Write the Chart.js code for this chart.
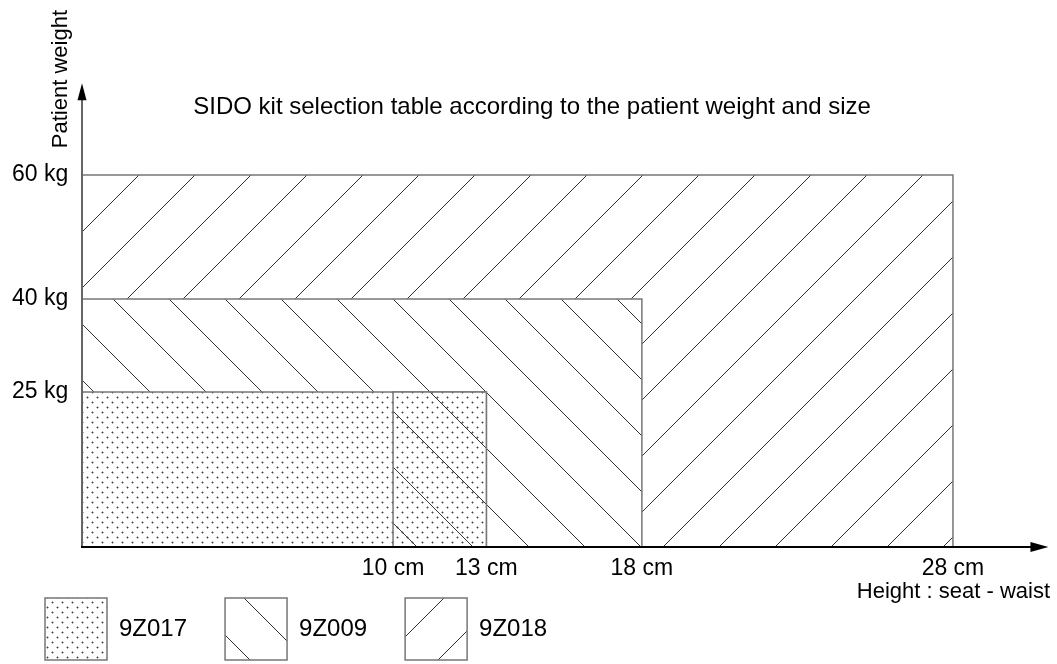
<!DOCTYPE html>
<html>
<head>
<meta charset="utf-8">
<script src="https://cdn.jsdelivr.net/npm/chart.js@4.4.1/dist/chart.umd.min.js"></script>
<style>
  html, body { margin: 0; padding: 0; background: #fff; }
  #wrap { width: 1057px; height: 664px; }
</style>
</head>
<body>
<div id="wrap"><canvas id="kitChart"></canvas></div>
<script>
const kitNames = ["9Z017", "9Z009", "9Z018"];
const kitMaxHeightCm = [13, 18, 28];
const kitMaxWeightKg = [25, 40, 60];
const sharedFromCm = 10; // from here up to 13 cm, 9Z017 and 9Z009 both apply
const heightTicksCm = [10, 13, 18, 28];
const weightTicksKg = [25, 40, 60];

const chartTitle = "SIDO kit selection table according to the patient weight and size";
const xTitle = "Height : seat - waist";
const yTitle = "Patient weight";

// pattern tiles (white background so the smaller boxes hide the bigger ones)
function makePattern(size, opts) {
  const c = document.createElement("canvas");
  c.width = size;
  c.height = size;
  const g = c.getContext("2d");
  g.fillStyle = "#fff";
  g.fillRect(0, 0, size, size);
  if (opts.dots) {
    for (let yy = 0; yy < size; yy += 10) {
      for (let xx = 0; xx < size; xx += 10) {
        plus(g, xx + 2, yy + 2);
        plus(g, xx + 7, yy + 7);
      }
    }
  }
  if (opts.hatch) {
    g.strokeStyle = "#333";
    g.lineWidth = 1;
    const n = size / 56 + 2;
    for (let k = -n; k <= n; k++) {
      const c0 = opts.phase + 56 * k;
      g.beginPath();
      if (opts.hatch === "/") {
        g.moveTo(c0 + 4, -4);
        g.lineTo(c0 - size - 4, size + 4);
      } else {
        g.moveTo(c0 - 4, -4);
        g.lineTo(c0 + size + 4, size + 4);
      }
      g.stroke();
    }
  }
  return g.createPattern(c, "repeat");
}

function plus(g, x, y) {
  g.fillStyle = "#aaa";
  g.fillRect(x - 1, y, 3, 1);
  g.fillRect(x, y - 1, 1, 3);
  g.fillStyle = "#444";
  g.fillRect(x, y, 1, 1);
}

const dotFill = makePattern(10, { dots: true });
const backFill = makePattern(56, { hatch: "\\", phase: 38 });
const slashFill = makePattern(56, { hatch: "/", phase: 34 });
const sharedFill = makePattern(280, { dots: true, hatch: "\\", phase: 38 });
const kitFills = [dotFill, backFill, slashFill];

function boxOutline(fromCm, toCm, topKg) {
  return [
    { x: fromCm, y: fromCm > 0 ? 0 : topKg },
    { x: fromCm, y: topKg },
    { x: toCm, y: topKg },
    { x: toCm, y: 0 },
  ];
}

const datasets = kitNames.map((name, i) => ({
  label: name,
  data: boxOutline(0, kitMaxHeightCm[i], kitMaxWeightKg[i]),
  backgroundColor: kitFills[i],
  borderColor: "#777",
  borderWidth: 1.5,
  fill: "origin",
  pointRadius: 0,
  tension: 0,
  order: i + 2,
}));

// 10-13 cm: dots of 9Z017 with the 9Z009 hatch showing through
datasets.push({
  label: "shared",
  data: boxOutline(sharedFromCm, kitMaxHeightCm[0], kitMaxWeightKg[0]),
  backgroundColor: sharedFill,
  borderColor: "#777",
  borderWidth: 1.5,
  fill: "origin",
  pointRadius: 0,
  tension: 0,
  order: 1,
});

const axisArrows = {
  id: "axisArrows",
  afterDatasetsDraw(chart) {
    const { ctx, scales: { x, y } } = chart;
    const x0 = x.getPixelForValue(0);
    const y0 = y.getPixelForValue(0);
    const xTip = x.getPixelForValue(31.07);
    const yTip = y.getPixelForValue(74.8);
    ctx.save();
    // y axis
    ctx.strokeStyle = "#666";
    ctx.lineWidth = 2;
    ctx.beginPath();
    ctx.moveTo(x0, y0 + 1);
    ctx.lineTo(x0, yTip + 10);
    ctx.stroke();
    ctx.fillStyle = "#000";
    ctx.beginPath();
    ctx.moveTo(x0, yTip);
    ctx.lineTo(x0 - 4.5, yTip + 17);
    ctx.lineTo(x0 + 4.5, yTip + 17);
    ctx.closePath();
    ctx.fill();
    // x axis
    ctx.strokeStyle = "#000";
    ctx.beginPath();
    ctx.moveTo(x0 - 1, y0);
    ctx.lineTo(xTip - 10, y0);
    ctx.stroke();
    ctx.beginPath();
    ctx.moveTo(xTip, y0);
    ctx.lineTo(xTip - 18, y0 - 5);
    ctx.lineTo(xTip - 18, y0 + 5);
    ctx.closePath();
    ctx.fill();
    // chart title inside the plot
    ctx.font = "24px 'Liberation Sans', Arial, sans-serif";
    ctx.textAlign = "center";
    ctx.textBaseline = "middle";
    ctx.fillText(chartTitle, x.getPixelForValue(14.47), y.getPixelForValue(70.9));
    ctx.restore();
  },
};

Chart.defaults.font.family = "'Liberation Sans', Arial, sans-serif";
Chart.defaults.color = "#000";

new Chart(document.getElementById("kitChart"), {
  type: "line",
  data: { datasets },
  plugins: [axisArrows],
  options: {
    responsive: true,
    maintainAspectRatio: false,
    animation: false,
    layout: { padding: { top: 10, right: 7, bottom: -6, left: 27 } },
    plugins: {
      tooltip: { enabled: false },
      legend: {
        position: "bottom",
        align: "start",
        labels: {
          boxWidth: 62,
          boxHeight: 62,
          padding: 18,
          font: { size: 24 },
          color: "#000",
          filter: (item) => item.datasetIndex < kitNames.length,
          generateLabels: (chart) =>
            Chart.defaults.plugins.legend.labels
              .generateLabels(chart)
              .map((item) => ({ ...item, text: item.text + "   " })),
        },
      },
    },
    scales: {
      x: {
        type: "linear",
        min: 0,
        max: 31.12,
        grid: { display: false, drawTicks: false },
        border: { display: false },
        afterBuildTicks: (scale) => {
          scale.ticks = heightTicksCm.map((v) => ({ value: v }));
        },
        afterFit: (scale) => {
          scale.height = 33;
          scale.paddingLeft = 0;
          scale.paddingRight = 0;
        },
        ticks: {
          autoSkip: false,
          maxRotation: 0,
          padding: 8,
          font: { size: 23 },
          callback: (v) => v + " cm",
        },
        title: {
          display: true,
          text: xTitle,
          align: "end",
          font: { size: 22 },
          padding: { top: 0, bottom: -25 },
        },
      },
      y: {
        min: 0,
        max: 86.6,
        grid: { display: false, drawTicks: false },
        border: { display: false },
        afterBuildTicks: (scale) => {
          scale.ticks = weightTicksKg.map((v) => ({ value: v }));
        },
        afterFit: (scale) => {
          scale.width = 55;
          scale.paddingTop = 0;
          scale.paddingBottom = 0;
        },
        ticks: {
          mirror: true,
          padding: -70,
          font: { size: 23 },
          callback: (v) => v + " kg",
        },
        title: {
          display: true,
          text: yTitle,
          align: "end",
          font: { size: 22 },
          padding: { top: 21, bottom: 0 },
        },
      },
    },
  },
});
</script>
</body>
</html>
